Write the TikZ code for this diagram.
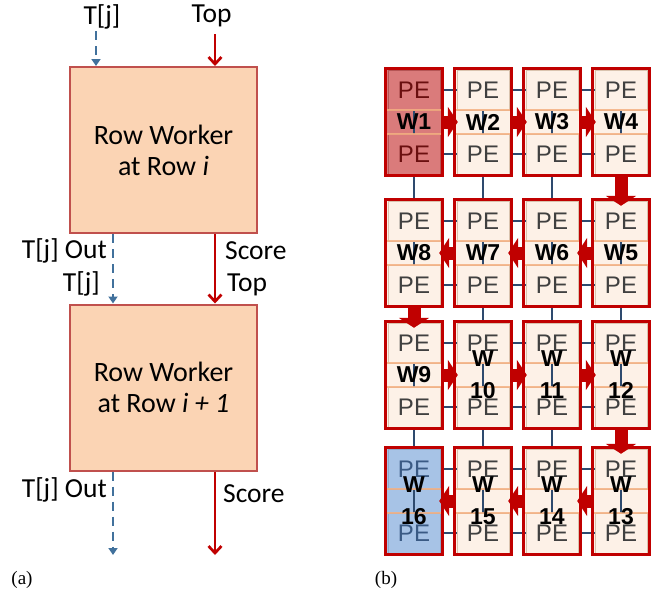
\documentclass[tikz,border=0pt]{standalone}
\usepackage{fontspec}
\usepackage{tikz}
\usetikzlibrary{arrows.meta}

\newfontfamily\calibri{Carlito}
\newfontfamily\arial{Liberation Sans}
\newfontfamily\timesfont{Liberation Serif}

\definecolor{boxfill}{HTML}{FBD4B4}
\definecolor{boxline}{HTML}{C0504D}
\definecolor{tjblue}{HTML}{41719C}
\definecolor{scorered}{HTML}{C00000}
\definecolor{pefill}{HTML}{FDF1E7}
\definecolor{peline}{HTML}{D9C3AE}
\definecolor{petext}{HTML}{404040}
\definecolor{bandline}{HTML}{F4B183}
\definecolor{hotfill}{HTML}{DA7B7B}
\definecolor{hotedge}{HTML}{B55555}
\definecolor{hottext}{HTML}{6A0F0F}
\definecolor{coldfill}{HTML}{A7C3E6}
\definecolor{coldedge}{HTML}{8EA8CB}
\definecolor{coldtext}{HTML}{3A5A84}
\definecolor{meshblue}{HTML}{2E4A6E}

\pgfdeclarelayer{bg}
\pgfdeclarelayer{mesh}
\pgfsetlayers{bg,mesh,main}

\begin{document}
\begin{tikzpicture}[x=1pt,y=-1pt,
  rowbox/.style={draw=boxline,fill=boxfill,line width=2pt,minimum width=187pt,minimum height=166pt,
    align=center,font=\calibri\fontsize{28}{31}\selectfont},
  lbl/.style={font=\calibri\fontsize{27.5}{30}\selectfont,inner sep=0pt},
  capt/.style={font=\timesfont\fontsize{19}{19}\selectfont,inner sep=0pt},
  tjline/.style={draw=tjblue,line width=2.7pt,dash pattern=on 9pt off 6pt,-{Triangle[length=7pt,width=9pt]}},
  scoreline/.style={draw=scorered,line width=2.7pt,-{Straight Barb[length=7pt,width=13pt]}},
  worker/.style={minimum width=56pt,minimum height=106pt,inner sep=0pt,fill=pefill},
  pecell/.style={rectangle,fill=pefill,draw=peline,line width=0.8pt,minimum width=52pt,minimum height=40pt,
    inner sep=0pt,text=petext,font=\arial\fontsize{24}{24}\selectfont},
  mild/.style={},
  hot/.style={fill=hotfill,draw=hotedge,text=hottext},
  cold/.style={fill=coldfill,draw=coldedge,text=coldtext},
  wlabel/.style={font=\arial\bfseries\fontsize{23}{32}\selectfont,align=center,inner sep=0pt},
  frame/.style={draw=scorered,line width=3pt},
  band/.style={draw=bandline,line width=1.5pt,opacity=0.85},
  mesh/.style={draw=meshblue,line width=1.2pt},
  flow/.style={draw=scorered,line width=13pt,-{Triangle[length=10pt,width=30pt]},shorten >=-3pt}]

\useasboundingbox (0,0) rectangle (665,595);

\node[rowbox] (rw1) at (163.5,150) {Row Worker\\at Row \textit{i}};
\node[rowbox] (rw2) at (163.5,387.5) {Row Worker\\at Row \textit{i + 1}};

\node[lbl] (tjtop) at (102,17) {T[j]};
\node[lbl] (toptop) at (211.5,16) {Top};
\node[lbl,anchor=east] (tjout1) at (107,251) {T[j] Out};
\node[lbl,anchor=east] (tjin2) at (100,284) {T[j]};
\node[lbl,anchor=west] (score1) at (225,251) {Score};
\node[lbl,anchor=west] (top2) at (227,285) {Top};
\node[lbl,anchor=east] (tjout2) at (107,490) {T[j] Out};
\node[lbl,anchor=west] (score2) at (223,494) {Score};

\coordinate (tjx) at (96,31);
\coordinate (topx) at (215,34);
\coordinate (tjmid) at (113,0);
\coordinate (tjend) at (113,555);
\coordinate (scoreend) at (215,555);

\draw[tjline] (tjx) -- (tjx |- rw1.north);
\draw[scoreline] (topx) -- (topx |- rw1.north);
\draw[tjline] (rw1.south -| tjmid) -- (rw2.north -| tjmid);
\draw[scoreline] (rw1.south -| topx) -- (rw2.north -| topx);
\draw[tjline] (rw2.south -| tjend) -- (tjend);
\draw[scoreline] (rw2.south -| scoreend) -- (scoreend);

\node[capt] (capa) at (22,580) {(a)};
\node[capt] (capb) at (386,580) {(b)};

\foreach \n/\c/\r/\tone in {1/1/1/hot,2/2/1/mild,3/3/1/mild,4/4/1/mild,
    5/4/2/mild,6/3/2/mild,7/2/2/mild,8/1/2/mild,
    9/1/3/mild,10/2/3/mild,11/3/3/mild,12/4/3/mild,
    13/4/4/mild,14/3/4/mild,15/2/4/mild,16/1/4/cold}{
  \pgfmathsetmacro\x{414+69*(\c-1)}
  \pgfmathsetmacro\y{{122,253,375,501}[\r-1]}
  \pgfmathtruncatemacro\ka{2*\r-1}
  \pgfmathtruncatemacro\kb{2*\r}
  \begin{pgfonlayer}{bg}
    \node[worker,\tone] (w\n) at (\x,\y) {};
  \end{pgfonlayer}
  \node[pecell,\tone] (pe-\c-\ka) at (\x,\y-32) {PE};
  \node[pecell,\tone] (pe-\c-\kb) at (\x,\y+32) {PE};
  \draw[band] (\x-28,\y-12) -- (\x+28,\y-12);
  \draw[band] (\x-28,\y+12) -- (\x+28,\y+12);
  \draw[frame] (w\n.north west) rectangle (w\n.south east);
  \ifnum\n<10
    \node[wlabel] (wl\n) at (w\n) {W\n};
  \else
    \node[wlabel] (wl\n) at (w\n) {W\\\n};
  \fi
}

\begin{pgfonlayer}{mesh}
\foreach \c in {1,...,4}
  \foreach \k in {1,...,7}{
    \pgfmathtruncatemacro\kk{\k+1}
    \draw[mesh] (pe-\c-\k.center) -- (pe-\c-\kk.center);
  }
\foreach \c in {1,2,3}
  \foreach \k in {1,...,8}{
    \pgfmathtruncatemacro\cc{\c+1}
    \draw[mesh] (pe-\c-\k.center) -- (pe-\cc-\k.center);
  }
\end{pgfonlayer}

\foreach \a/\b in {1/2,2/3,3/4,5/6,6/7,7/8,9/10,10/11,11/12,13/14,14/15,15/16}
  \draw[flow] (w\a) -- (w\b);
\foreach \a/\b in {4/5,8/9,12/13}
  \draw[flow,shorten >=-6pt] (w\a) -- (w\b);

\end{tikzpicture}
\end{document}
